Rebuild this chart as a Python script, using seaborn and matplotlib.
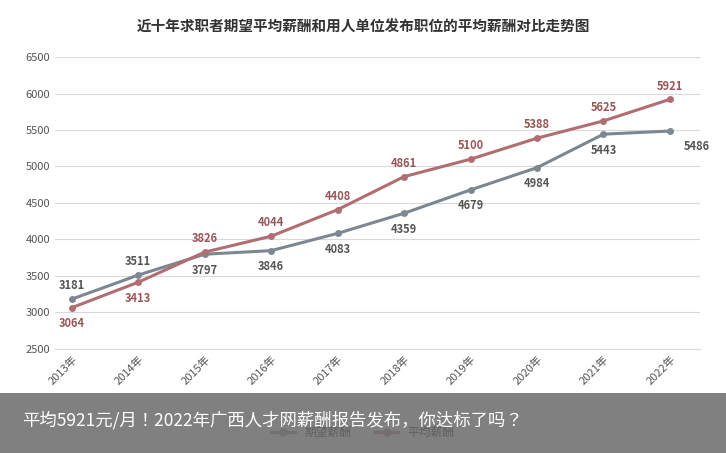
import matplotlib
matplotlib.use("Agg")
import matplotlib.pyplot as plt
import seaborn as sns
import pandas as pd
from matplotlib.patches import Rectangle
from matplotlib import font_manager as fm
from matplotlib.lines import Line2D

cjk_name = None
for f in fm.findSystemFonts():
    if "CJK" in f or "cjk" in f.lower():
        try:
            fm.fontManager.addfont(f)
            nm = fm.FontProperties(fname=f).get_name()
            if cjk_name is None or "SC" in nm:
                cjk_name = nm
        except Exception:
            pass
plt.rcParams["font.family"] = [n for n in [cjk_name, "Noto Sans CJK SC", "DejaVu Sans"] if n]

years = ["2013年", "2014年", "2015年", "2016年", "2017年", "2018年", "2019年", "2020年", "2021年", "2022年"]
expected = [3181, 3511, 3797, 3846, 4083, 4359, 4679, 4984, 5443, 5486]
average = [3064, 3413, 3826, 4044, 4408, 4861, 5100, 5388, 5625, 5921]
series_names = ["期望薪酬", "平均薪酬"]
title = "近十年求职者期望平均薪酬和用人单位发布职位的平均薪酬对比走势图"
banner = "平均5921元/月！2022年广西人才网薪酬报告发布，你达标了吗？"

df = pd.DataFrame({"year": years * 2,
                   "value": expected + average,
                   "series": [series_names[0]] * 10 + [series_names[1]] * 10})

fig = plt.figure(figsize=(7.26, 4.53), dpi=100)
ax = fig.add_axes([0.076, 0.23, 0.888, 0.644])
palette = {series_names[0]: "#7d8791", series_names[1]: "#b06e72"}
sns.lineplot(data=df, x="year", y="value", hue="series", palette=palette,
             marker="o", markersize=5, markeredgewidth=0, linewidth=2.2,
             ax=ax, sort=False, legend=False)

ax.set_ylim(2500, 6500)
ax.set_yticks(range(2500, 6501, 500))
ax.set_xlim(-0.25, 9.45)
ax.grid(axis="y", color="#d9d9d9", linewidth=0.8)
ax.set_axisbelow(True)
for s in ["top", "right", "left"]:
    ax.spines[s].set_visible(False)
ax.spines["bottom"].set_color("#d9d9d9")
ax.tick_params(axis="y", length=0, labelsize=8, labelcolor="#555555")
ax.tick_params(axis="x", length=0, labelsize=8, labelcolor="#555555")
plt.setp(ax.get_xticklabels(), rotation=45, ha="right", rotation_mode="anchor")
ax.set_xlabel("")
ax.set_ylabel("")

gray_above = {0, 1}
red_below = {0, 1}
for i, (e, a) in enumerate(zip(expected, average)):
    if i == 9:
        ax.annotate(str(e), (i, e), xytext=(10, -14), textcoords="offset points",
                    ha="left", fontsize=8, color="#555555", fontweight="bold")
    else:
        off = 7 if i in gray_above else -14
        ax.annotate(str(e), (i, e), xytext=(0, off), textcoords="offset points",
                    ha="center", fontsize=8, color="#555555", fontweight="bold")
    off = -14 if i in red_below else 7
    ax.annotate(str(a), (i, a), xytext=(0, off), textcoords="offset points",
                ha="center", fontsize=8, color="#9a5558", fontweight="bold")

fig.text(0.5, 0.94, title, ha="center", va="center", fontsize=10.5,
         fontweight="bold", color="#333333")

handles = [Line2D([], [], color=palette[n], marker="o", markersize=5, linewidth=2.2) for n in series_names]
fig.legend(handles, series_names, loc="center", bbox_to_anchor=(0.5, 0.045), ncol=2,
           frameon=False, fontsize=8.5)

fig.patches.append(Rectangle((0, 0), 1, 60 / 453, transform=fig.transFigure,
                             facecolor="#6e6e6e", alpha=0.88, zorder=10))
fig.text(22 / 726, 33 / 453, banner, ha="left", va="center", fontsize=12.5,
         color="white", zorder=11)

fig.savefig("out.png", dpi=100)
